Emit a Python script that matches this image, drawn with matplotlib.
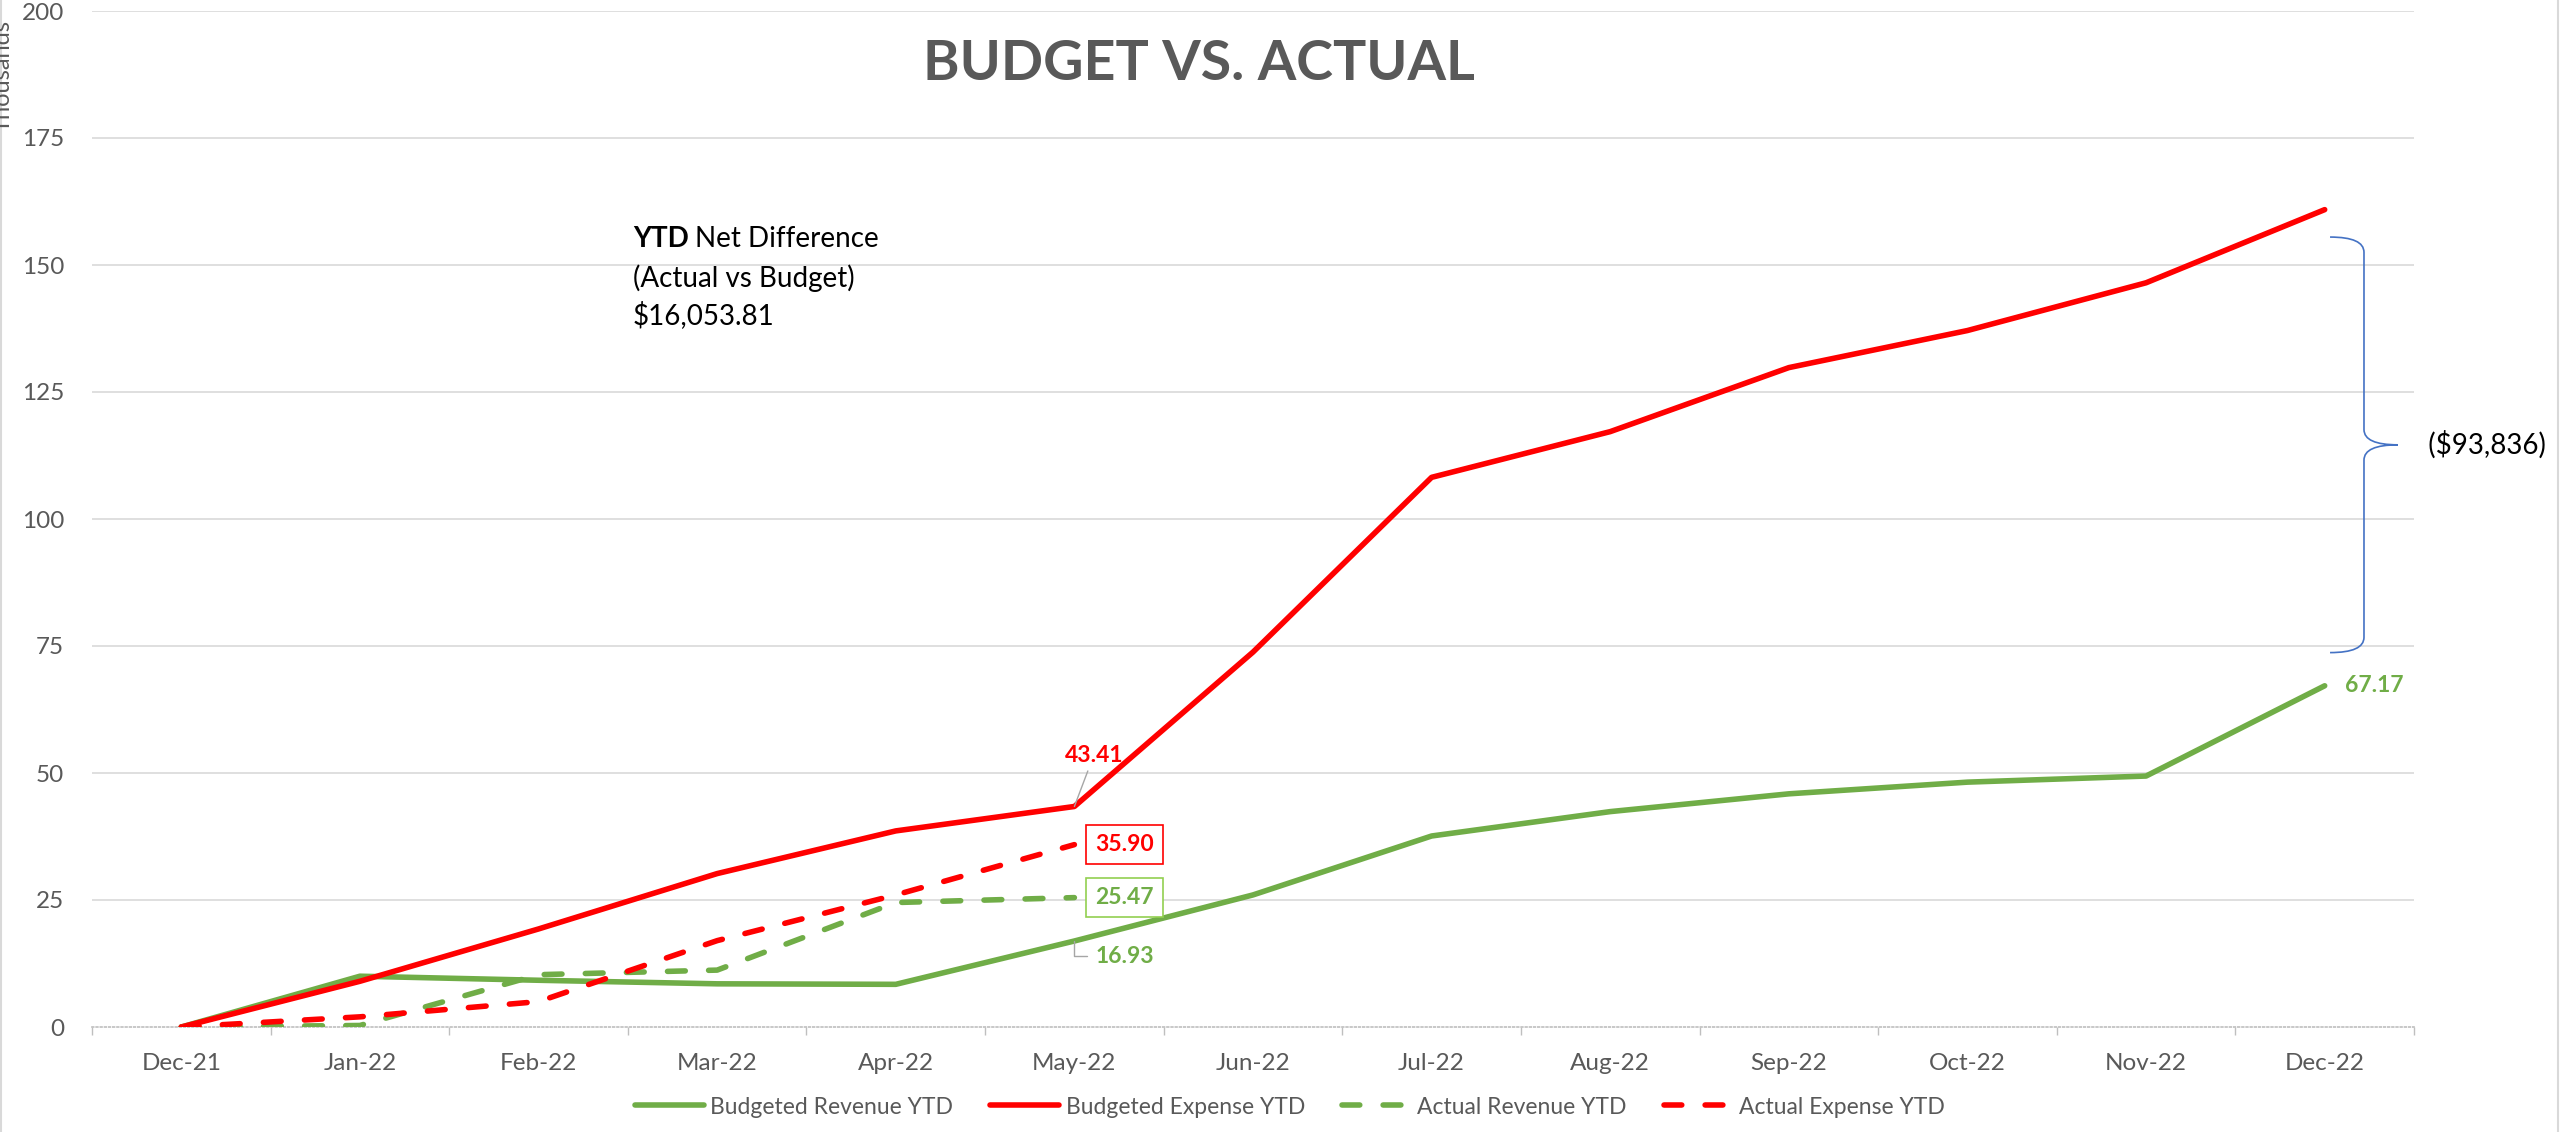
import numpy as np
import matplotlib
matplotlib.use('Agg')
import matplotlib.pyplot as plt
from matplotlib.path import Path
from matplotlib.patches import PathPatch
from matplotlib.lines import Line2D

# Data (thousands)
months = ['Dec-21', 'Jan-22', 'Feb-22', 'Mar-22', 'Apr-22', 'May-22', 'Jun-22',
          'Jul-22', 'Aug-22', 'Sep-22', 'Oct-22', 'Nov-22', 'Dec-22']
budget_revenue = [0, 10.0, 9.2, 8.5, 8.4, 16.93, 26.0, 37.6, 42.4, 45.9, 48.2, 49.4, 67.17]
budget_expense = [0, 9.0, 19.3, 30.2, 38.6, 43.41, 73.8, 108.2, 117.2, 129.8, 137.1, 146.5, 160.9]
actual_revenue = [0, 0.3, 10.3, 11.2, 24.5, 25.47]
actual_expense = [0, 2.0, 5.0, 17.0, 26.0, 35.90]
yticks = [0, 25, 50, 75, 100, 125, 150, 175, 200]
net_diff_text = '$16,053.81'
gap_text = '($93,836)'

GREEN = '#70AD47'
RED = '#FF0000'
GRAY = '#595959'
GRID = '#D9D9D9'

plt.rcParams['font.family'] = ['Lato', 'DejaVu Sans']

fig = plt.figure(figsize=(25.6, 11.32), dpi=100)
ax = fig.add_axes([92 / 2560, 1 - 1027 / 1132, (2414 - 92) / 2560, (1027 - 11) / 1132])

x = np.arange(len(months))
lw = 4
ax.plot(x, budget_revenue, color=GREEN, lw=lw, solid_capstyle='round', solid_joinstyle='round',
        label='Budgeted Revenue YTD', zorder=3)
ax.plot(x, budget_expense, color=RED, lw=lw, solid_capstyle='round', solid_joinstyle='round',
        label='Budgeted Expense YTD', zorder=3)
ax.plot(x[:len(actual_revenue)], actual_revenue, color=GREEN, lw=lw, dashes=(3.2, 4.2),
        dash_capstyle='round', label='Actual Revenue YTD', zorder=3)
ax.plot(x[:len(actual_expense)], actual_expense, color=RED, lw=lw, dashes=(3.2, 4.2),
        dash_capstyle='round', label='Actual Expense YTD', zorder=4)

ax.set_xlim(-0.5, len(months) - 0.5)
ax.set_ylim(0, 200)
ax.set_yticks(yticks)
ax.set_xticks(x)
ax.set_xticklabels(months)
ax.set_xticks(np.arange(-0.5, len(months)), minor=True)
ax.tick_params(axis='x', which='major', length=0, pad=19, labelsize=17.5, labelcolor=GRAY)
ax.tick_params(axis='x', which='minor', length=6, color='#BFBFBF', width=1)
ax.tick_params(axis='y', length=0, pad=20, labelsize=17.5, labelcolor=GRAY)
ax.yaxis.grid(True, color=GRID, lw=1.2)
ax.get_ygridlines()[0].set_visible(False)
ax.set_axisbelow(True)
for s in ['left', 'right', 'top']:
    ax.spines[s].set_visible(False)
ax.spines['bottom'].set_color('#BFBFBF')
ax.spines['bottom'].set_linestyle((0, (1, 1.5)))
ax.spines['bottom'].set_linewidth(1.2)

# data labels
lab = dict(fontsize=16.5, fontweight='bold', ha='center', va='center')
ax.annotate(f'{budget_expense[5]:.2f}', xy=(5, budget_expense[5]), xytext=(14, 37),
            textcoords='offset points', color=RED,
            arrowprops=dict(arrowstyle='-', color='#A6A6A6', lw=1, shrinkA=2, shrinkB=0), **lab)
ax.annotate(f'{actual_expense[5]:.2f}', xy=(5, actual_expense[5]), xytext=(36, 0),
            textcoords='offset points', color=RED,
            bbox=dict(boxstyle='square,pad=0.4', fc='white', ec=RED, lw=1.2), **lab)
ax.annotate(f'{actual_revenue[5]:.2f}', xy=(5, actual_revenue[5]), xytext=(36, 0),
            textcoords='offset points', color=GREEN,
            bbox=dict(boxstyle='square,pad=0.4', fc='white', ec='#92D050', lw=1.2), **lab)
ax.annotate(f'{budget_revenue[5]:.2f}', xy=(5, budget_revenue[5]), xytext=(36, -11),
            textcoords='offset points', color=GREEN,
            arrowprops=dict(arrowstyle='-', color='#A6A6A6', lw=1, shrinkA=4, shrinkB=0,
                            connectionstyle='angle,angleA=0,angleB=90,rad=0'), **lab)
ax.annotate(f'{budget_revenue[12]:.2f}', xy=(12, budget_revenue[12]), xytext=(36, 0),
            textcoords='offset points', color=GREEN, **lab)

# brace between budgets at Dec-22
y_top, y_bot = 155.5, 73.7
y_mid = 114.6
x0, x1, x2 = 12.03, 12.22, 12.41
verts = [(x0, y_top), (x1, y_top), (x1, y_top - 3),
         (x1, y_mid + 3), (x1, y_mid), (x2, y_mid),
         (x1, y_mid), (x1, y_mid - 3),
         (x1, y_bot + 3), (x1, y_bot), (x0, y_bot)]
codes = [Path.MOVETO, Path.CURVE3, Path.CURVE3,
         Path.LINETO, Path.CURVE3, Path.CURVE3,
         Path.CURVE3, Path.CURVE3,
         Path.LINETO, Path.CURVE3, Path.CURVE3]
ax.add_patch(PathPatch(Path(verts, codes), fc='none', ec='#4472C4', lw=1.2, clip_on=False))
ax.text(12.5, y_mid, '  ' + gap_text, fontsize=20, color='black', va='center', ha='left',
        clip_on=False)

# net difference note
t1 = fig.text(633 / 2560, 1 - 247 / 1132, 'YTD', fontsize=20, fontweight='bold', va='baseline')
fig.canvas.draw()
bb = t1.get_window_extent()
fig.text((bb.x1 + 6) / 2560, 1 - 247 / 1132, 'Net Difference', fontsize=20, va='baseline')
fig.text(633 / 2560, 1 - 287 / 1132, '(Actual vs Budget)', fontsize=20, va='baseline')
fig.text(633 / 2560, 1 - 324 / 1132, net_diff_text, fontsize=20, va='baseline')

# title and axis unit
fig.text(1199 / 2560, 1 - 64 / 1132, 'BUDGET VS. ACTUAL', fontsize=40, fontweight='bold',
         color=GRAY, ha='center', va='center')
fig.text(3 / 2560, 1 - 76 / 1132, 'Thousands', fontsize=17, color=GRAY, rotation=90,
         ha='center', va='center')

# chart border
fig.add_artist(Line2D([1 / 2560, 1 / 2560], [0, 1], color=GRID, lw=1.5))
fig.add_artist(Line2D([2558 / 2560, 2558 / 2560], [0, 1], color=GRID, lw=1.5))

leg = fig.legend(loc='center', bbox_to_anchor=(1290 / 2560, 1 - 1107 / 1132), ncol=4,
                 frameon=False, fontsize=16.5, handlelength=3.0, handletextpad=0.3,
                 columnspacing=1.6, labelcolor=GRAY)

fig.savefig('out.png', dpi=100)
